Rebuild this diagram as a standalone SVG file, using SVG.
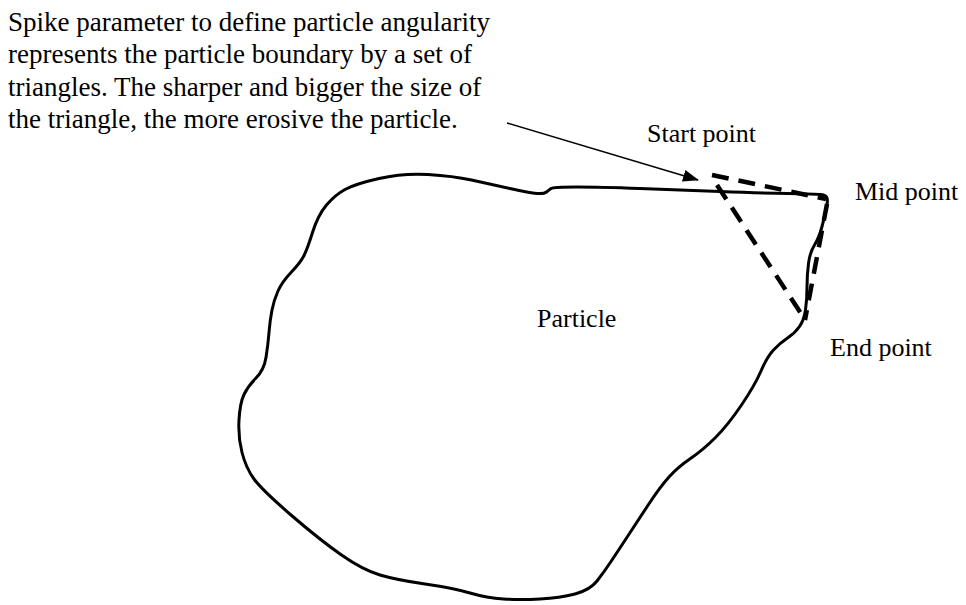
<svg xmlns="http://www.w3.org/2000/svg" width="966" height="605" viewBox="0 0 966 605">
<style>
text{font-family:"Liberation Serif","Times New Roman",serif;fill:#000}
.para{font-size:27px}
.lbl{font-size:26px}
.dash{fill:none;stroke:#000;stroke-width:4.5;stroke-dasharray:17 10}
</style>
<defs>
<marker id="ah" markerWidth="16" markerHeight="12" refX="15" refY="6" orient="auto" markerUnits="userSpaceOnUse">
<path d="M0,0 L16,6 L0,12 Z" fill="#000"/>
</marker>
</defs>
<rect width="966" height="605" fill="#fff"/>
<g id="description">
<text class="para" x="8" y="31">Spike parameter  to define particle  angularity</text>
<text class="para" x="8" y="63">represents the particle boundary by a set of</text>
<text class="para" x="8" y="96">triangles. The sharper and bigger the size of</text>
<text class="para" x="8" y="128">the triangle,  the more erosive  the particle.</text>
</g>
<g id="particle">
<path d="M 551,188.5 Q 553,187 576.5,187 Q 600,187 640,188.5 Q 680,190 720,191.5 Q 760,193 788,193.5 Q 816,194 821,194.5 Q 826,195 827,198 Q 828,201 826.5,208 Q 825,215 822,226.5 Q 819,238 814.5,245 Q 810,252 808.5,263.5 Q 807,275 807,287.5 Q 807,300 805.5,310 Q 804,320 799.5,326.5 Q 795,333 787.5,338 Q 780,343 773.5,350 Q 767,357 761,371 Q 755,385 741.5,405 Q 728,425 715.5,437.5 Q 703,450 690.5,458.5 Q 678,467 669,477 Q 660,487 648.5,504.5 Q 637,522 627.5,536.5 Q 618,551 611,561.5 Q 604,572 597,581 Q 590,590 575,594 Q 560,598 540,599 Q 520,600 503.5,599 Q 487,598 470,593 Q 453,588 425,584 Q 397,580 380,575 Q 363,570 341.5,555 Q 320,540 291,515 Q 262,490 254,479 Q 246,468 242,452.5 Q 238,437 239,420 Q 240,403 244,394.5 Q 248,386 256,378 Q 264,370 266,357.5 Q 268,345 269,332.5 Q 270,320 272,310 Q 274,300 278,291 Q 282,282 291,272.5 Q 300,263 303.5,256.5 Q 307,250 312.5,232.5 Q 318,215 326.5,205 Q 335,195 345,189.5 Q 355,184 379,178.5 Q 403,173 428,174.5 Q 453,176 471.5,180 Q 490,184 510,188.5 Q 530,193 537,193.5 Q 544,194 546.5,192 Q 549,190 551,188.5 Z" fill="none" stroke="#000" stroke-width="3" stroke-linejoin="round"/>
<text class="lbl" x="537" y="327">Particle</text>
</g>
<g id="triangle">
<line class="dash" x1="712" y1="175" x2="826" y2="199"/>
<line class="dash" x1="827" y1="204" x2="805" y2="320"/>
<line class="dash" x1="717" y1="185" x2="802" y2="315"/>
</g>
<g id="start-point"><text class="lbl" x="647" y="142">Start point</text></g>
<g id="mid-point"><text class="lbl" x="855" y="200">Mid point</text></g>
<g id="end-point"><text class="lbl" x="830" y="356">End point</text></g>
<g id="connectors">
<line x1="507" y1="123" x2="698" y2="180" stroke="#000" stroke-width="1.5" marker-end="url(#ah)"/>
</g>
</svg>
